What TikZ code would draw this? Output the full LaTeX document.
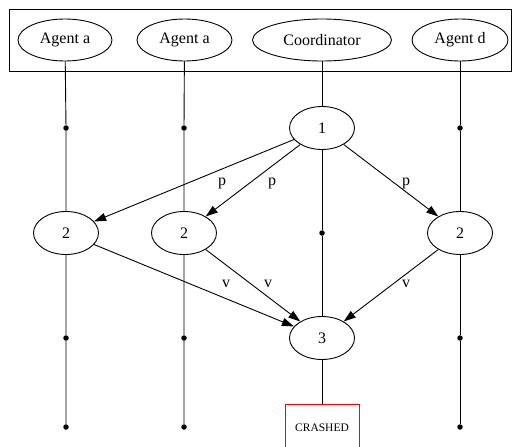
\documentclass[tikz,border=0pt]{standalone}
\usepackage{fontspec}
\setmainfont{Liberation Serif}
\usetikzlibrary{shapes.geometric,arrows.meta}
\begin{document}
\begin{tikzpicture}[x=1pt,y=-1pt,line width=0.9pt,
  lane/.style={draw,ellipse,minimum height=42pt,inner sep=0pt,font=\fontsize{16}{18}\selectfont},
  state/.style={draw,ellipse,minimum width=65pt,minimum height=43pt,inner sep=0pt,font=\fontsize{16}{18}\selectfont},
  dot/.style={circle,fill,inner sep=0pt,minimum size=5.5pt},
  msg/.style={-{Triangle[length=12pt,width=8pt]}},
  lbl/.style={font=\fontsize{16}{18}\selectfont,inner sep=0pt},
  crashbox/.style={draw=red,minimum width=74pt,minimum height=48pt,inner sep=0pt,font=\fontsize{11.5}{13}\selectfont}]
\useasboundingbox (0,0) rectangle (512,447);

% header frame with the participants
\node[draw,minimum width=502pt,minimum height=62pt,inner sep=0pt] (frame) at (260,40) {};
\node[lane,minimum width=94pt]  (ag1) at (65,40)  {Agent a};
\node[lane,minimum width=95pt]  (ag2) at (184.5,40) {Agent a};
\node[lane,minimum width=139pt] (co)  at (322,40) {Coordinator};
\node[lane,minimum width=96pt]  (agd) at (460,40) {Agent d};

% protocol states
\node[state] (s1)  at (322,128) {1};
\node[state] (s2a) at (66,233)  {2};
\node[state] (s2b) at (184,233) {2};
\node[state] (s2d) at (460,233) {2};
\node[state] (s3)  at (322,338) {3};
\node[crashbox] (crash) at (322,428) {CRASHED};

% lifeline points
\node[dot] (a1) at (66,128) {};
\node[dot] (a2) at (66,338) {};
\node[dot] (a3) at (66,427) {};
\node[dot] (b1) at (184,128) {};
\node[dot] (b2) at (184,338) {};
\node[dot] (b3) at (184,427) {};
\node[dot] (c1) at (322,233) {};
\node[dot] (d1) at (460,128) {};
\node[dot] (d2) at (460,338) {};
\node[dot] (d3) at (460,427) {};

% lifelines
\draw (ag1) -- (a1) -- (s2a) -- (a2) -- (a3);
\draw (ag2) -- (b1) -- (s2b) -- (b2) -- (b3);
\draw (co) -- (s1) -- (c1) -- (s3) -- (crash);
\draw (agd) -- (d1) -- (s2d) -- (d2) -- (d3);

% messages
\draw[msg] (s1) -- (s2a);
\draw[msg] (s1) -- (s2b);
\draw[msg] (s1) -- (s2d);
\draw[msg] (s2a) -- (s3);
\draw[msg] (s2b) -- (s3);
\draw[msg] (s2d) -- (s3);

\node[lbl] (p1) at (222,183) {p};
\node[lbl] (p2) at (272,183) {p};
\node[lbl] (p3) at (406,183) {p};
\node[lbl] (v1) at (226,284) {v};
\node[lbl] (v2) at (268,284) {v};
\node[lbl] (v3) at (406,284) {v};
\end{tikzpicture}
\end{document}
